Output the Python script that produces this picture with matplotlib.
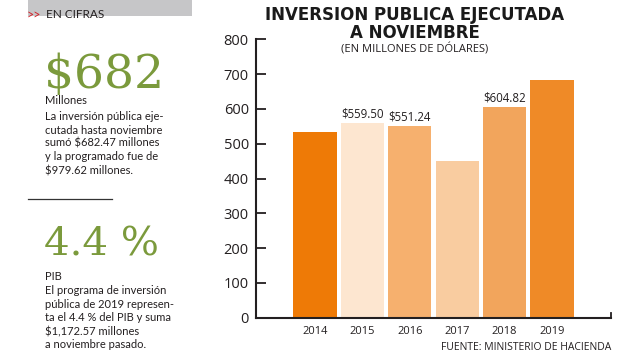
import matplotlib
matplotlib.use("Agg")
import matplotlib.pyplot as plt
from matplotlib.patches import Rectangle
from matplotlib.lines import Line2D

years = ["2014", "2015", "2016", "2017", "2018", "2019"]
values = [533.0, 559.50, 551.24, 450.0, 604.82, 682.47]
bar_labels = ["", "$559.50", "$551.24", "", "$604.82", ""]
colors = ["#EE7A06", "#FDE6D0", "#F6B06E", "#F9CCA0", "#F2A55C", "#EF8A27"]
y_ticks = [0, 100, 200, 300, 400, 500, 600, 700, 800]

title = "INVERSION PUBLICA EJECUTADA\nA NOVIEMBRE"
subtitle = "(EN MILLONES DE DÓLARES)"
source = "FUENTE: MINISTERIO DE HACIENDA"
header = "EN CIFRAS"
big1 = "$682"
lines1 = ["Millones", "La inversión pública eje-", "cutada hasta noviembre",
          "sumó $682.47 millones", "y la programado fue de", "$979.62 millones."]
big2 = "4.4 %"
lines2 = ["PIB", "El programa de inversión", "pública de 2019 represen-",
          "ta el 4.4 % del PIB y suma", "$1,172.57 millones", "a noviembre pasado."]

W, H = 627, 360
fig = plt.figure(figsize=(W / 100, H / 100), dpi=100)
fig.patch.set_facecolor("white")

def px(x, y):
    return x / W, 1 - y / H

sans = ["Lato", "DejaVu Sans"]
serif = ["DejaVu Serif"]
green = "#7B9A3C"
dark = "#231F20"

# Left panel
fig.patches.append(Rectangle(px(28, 16), (192 - 28) / W, 16 / H, transform=fig.transFigure,
                             facecolor="#C6C6C8", edgecolor="none", zorder=0))
fig.text(*px(27, 15), ">>", color="#D2232A", fontsize=9, family=sans, va="center", ha="left")
fig.text(*px(46, 15), header, color=dark, fontsize=8.5, family=sans, va="center", ha="left")

fig.text(*px(44, 88), big1, color=green, fontsize=34, family=serif, va="baseline", ha="left")
y1 = [104, 120.5, 133.5, 147, 160.5, 174]
for t, yy in zip(lines1, y1):
    fig.text(*px(45, yy), t, color=dark, fontsize=8, family=sans, va="baseline", ha="left")

fig.add_artist(Line2D([28 / W, 112 / W], [1 - 199 / H, 1 - 199 / H], color="#333333",
                      lw=0.9, transform=fig.transFigure))

fig.text(*px(44, 255), big2, color=green, fontsize=29, family=serif, va="baseline", ha="left")
y2 = [279.5, 294, 307.5, 321, 335, 348.5]
for t, yy in zip(lines2, y2):
    fig.text(*px(45, yy), t, color=dark, fontsize=8, family=sans, va="baseline", ha="left")

# Chart
ax = fig.add_axes([255.7 / W, 1 - 317.7 / H, (611 - 255.7) / W, (317.7 - 39.3) / H])
xs = list(range(len(years)))
bars = ax.bar(xs, values, width=0.91, color=colors, edgecolor="none", zorder=2)
for b, lab in zip(bars, bar_labels):
    if lab:
        ax.text(b.get_x() + b.get_width() / 2, b.get_height() + 8, lab, ha="center",
                va="bottom", fontsize=8.3, family=["Open Sans", "DejaVu Sans"], color=dark)

ax.set_xlim(-1.25, 6.245)
ax.set_ylim(0, 800)
ax.set_yticks(y_ticks)
ax.set_yticklabels([str(v) for v in y_ticks], fontsize=10.5,
                   family=["Open Sans", "DejaVu Sans"], color=dark)
ax.set_xticks(xs)
ax.set_xticklabels(years, fontsize=8, family=["Open Sans", "DejaVu Sans"], color=dark)
ax.tick_params(axis="y", direction="in", length=7, width=1.3, pad=5, color=dark)
ax.tick_params(axis="x", length=0, pad=6)
for s in ["top", "right"]:
    ax.spines[s].set_visible(False)
for s in ["left", "bottom"]:
    ax.spines[s].set_linewidth(1.5)
    ax.spines[s].set_color(dark)
ax.plot([1, 1], [0, 0.017], transform=ax.transAxes, color=dark, lw=1.3, clip_on=False)
ax.set_facecolor("none")

fig.text(*px(415, 6.5), title, ha="center", va="top", fontsize=12, fontweight="heavy",
         family=["DejaVu Sans"], color="#1A1A1A", linespacing=0.95, multialignment="center")
fig.text(*px(415, 52.5), subtitle, ha="center", va="baseline", fontsize=8,
         family=["Open Sans", "DejaVu Sans"], color=dark)
fig.text(*px(611, 350), source, ha="right", va="baseline", fontsize=7.5,
         family=["Open Sans", "DejaVu Sans"], color=dark)

fig.savefig("out.png", dpi=100, facecolor="white")
